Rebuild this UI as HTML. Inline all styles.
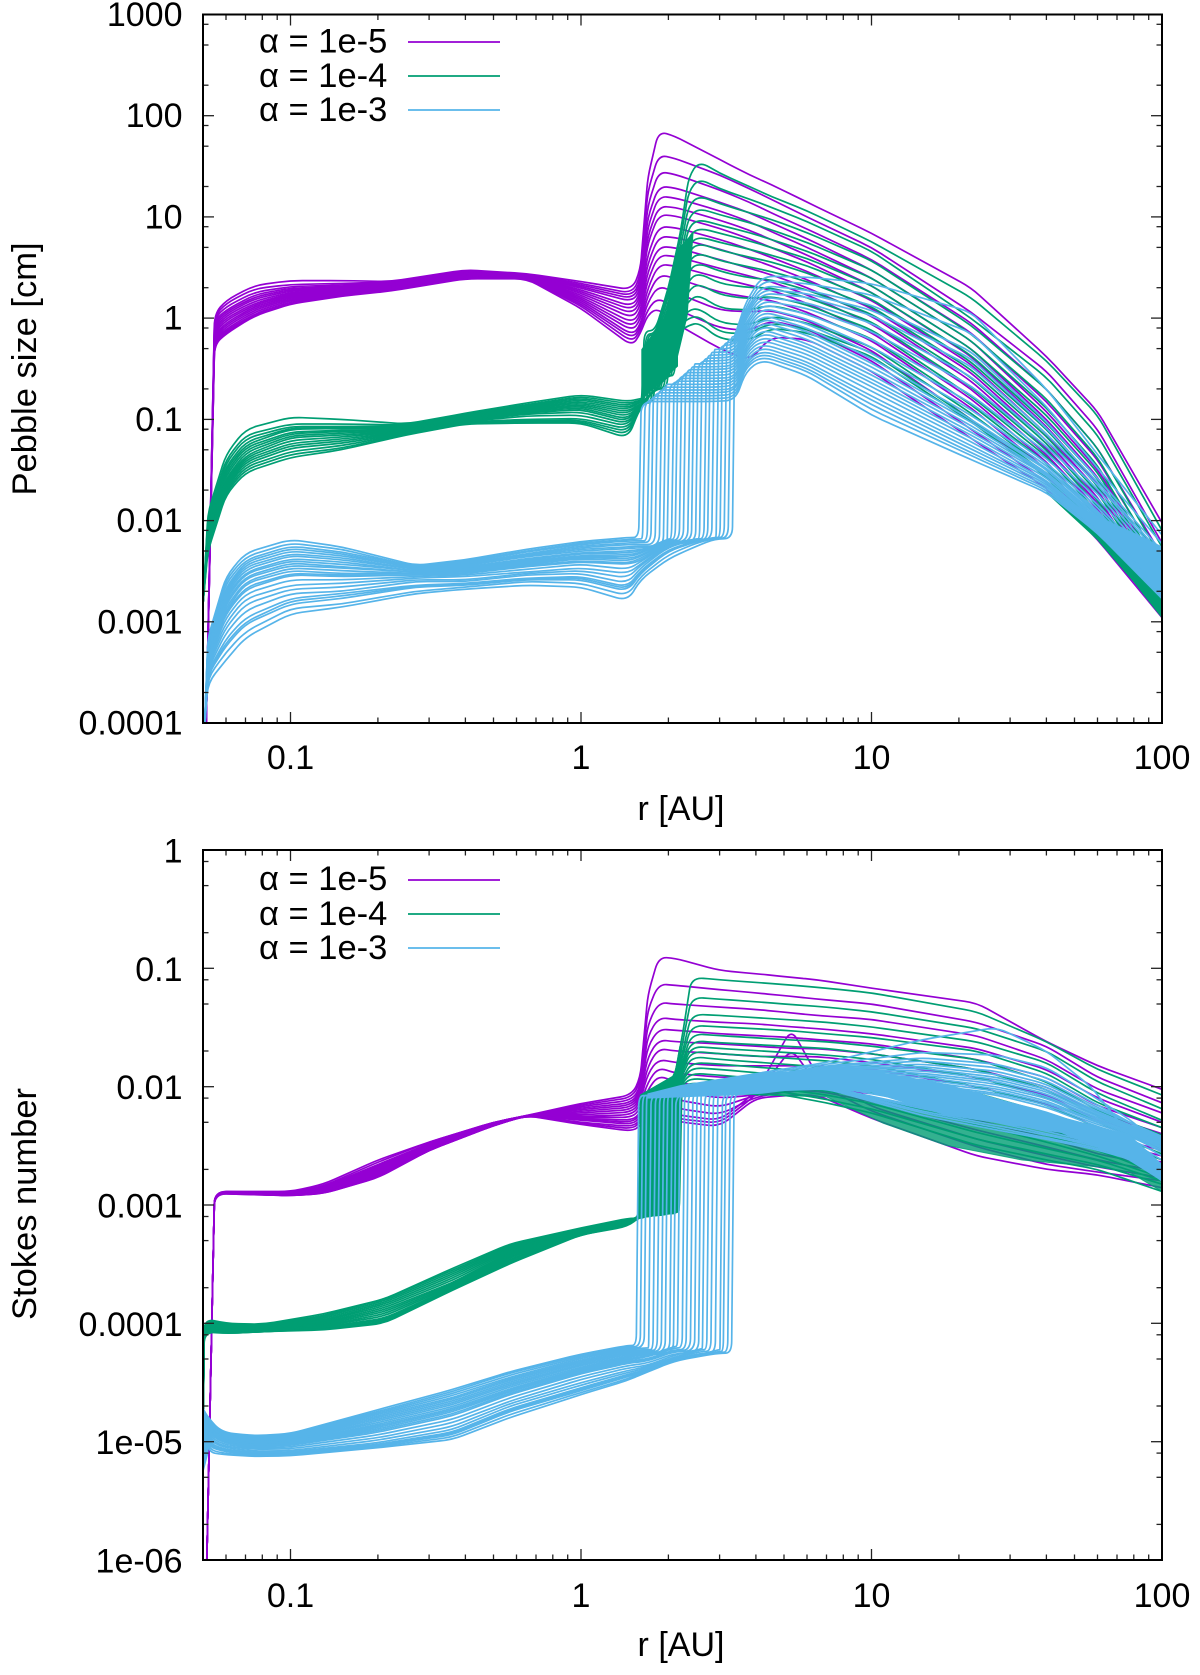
<!DOCTYPE html>
<html lang="en">
<head>
<meta charset="utf-8">
<title>Pebble size and Stokes number profiles</title>
<style>
html,body{margin:0;padding:0;background:#fff;width:1200px;height:1675px;overflow:hidden}
svg{display:block}
text{font-family:"Liberation Sans",sans-serif;fill:#000}
</style>
</head>
<body>
<svg id="figure" xmlns="http://www.w3.org/2000/svg" width="1200" height="1675" viewBox="0 0 1200 1675">
<defs>
<clipPath id="clip-top"><rect x="203" y="14.5" width="959" height="708.5"/></clipPath>
<clipPath id="clip-bottom"><rect x="203" y="850" width="959" height="710"/></clipPath>
</defs>
<g id="top-panel">
<g id="top-curves" clip-path="url(#clip-top)"></g>
<g id="top-ticks"></g>
<rect x="203" y="14.5" width="959" height="708.5" fill="none" stroke="#000" stroke-width="2"/>
<text x="36" y="369" font-size="34.5" text-anchor="middle" transform="rotate(-90 36 369)">Pebble size [cm]</text>
<text x="681" y="820" font-size="34" text-anchor="middle">r [AU]</text>
<g>
<text x="259" y="52.5" font-size="34.5">α = 1e-5</text>
<line x1="408" x2="500" y1="42" y2="42" stroke="#9400d3" stroke-width="1.8"/>
<text x="259" y="87" font-size="34.5">α = 1e-4</text>
<line x1="408" x2="500" y1="76" y2="76" stroke="#009e73" stroke-width="1.8"/>
<text x="259" y="121" font-size="34.5">α = 1e-3</text>
<line x1="408" x2="500" y1="110" y2="110" stroke="#56b4e9" stroke-width="1.8"/>
</g>
</g>
<g id="bottom-panel">
<g id="bottom-curves" clip-path="url(#clip-bottom)"></g>
<g id="bottom-ticks"></g>
<rect x="203" y="850" width="959" height="710" fill="none" stroke="#000" stroke-width="2"/>
<text x="36" y="1204" font-size="34.5" text-anchor="middle" transform="rotate(-90 36 1204)">Stokes number</text>
<text x="681" y="1656" font-size="34" text-anchor="middle">r [AU]</text>
<g>
<text x="259" y="890" font-size="34.5">α = 1e-5</text>
<line x1="408" x2="500" y1="880" y2="880" stroke="#9400d3" stroke-width="1.8"/>
<text x="259" y="925" font-size="34.5">α = 1e-4</text>
<line x1="408" x2="500" y1="914" y2="914" stroke="#009e73" stroke-width="1.8"/>
<text x="259" y="959" font-size="34.5">α = 1e-3</text>
<line x1="408" x2="500" y1="948" y2="948" stroke="#56b4e9" stroke-width="1.8"/>
</g>
</g>
</svg>
<script>
const xMajorTicks=[0.1,1,10,100];
const xMajorLabels=["0.1","1","10","100"];
const xMinorTicks=[0.06,0.07,0.08,0.09,0.2,0.3,0.4,0.5,0.6,0.7,0.8,0.9,2,3,4,5,6,7,8,9,20,30,40,50,60,70,80,90];
const sizeMajorTicks=[1000,100,10,1,0.1,0.01,0.001,0.0001];
const sizeMajorLabels=["1000","100","10","1","0.1","0.01","0.001","0.0001"];
const sizeMinorTicks=[800,500,200,80,50,20,8,5,2,0.8,0.5,0.2,0.08,0.05,0.02,0.008,0.005,0.002,0.0008,0.0005,0.0002];
const stokesMajorTicks=[1,0.1,0.01,0.001,0.0001,0.00001,0.000001];
const stokesMajorLabels=["1","0.1","0.01","0.001","0.0001","1e-05","1e-06"];
const stokesMinorTicks=[0.8,0.5,0.2,0.08,0.05,0.02,0.008,0.005,0.002,0.0008,0.0005,0.0002,0.00008,0.00005,0.00002,0.000008,0.000005,0.000002];

const purpleSizeStart=[0.0512,0.00008];
const purpleSizeRadii=[.0548,.06,.075,.1,.15,.22,.4,.65,1,1.5,1.6,1.7,1.85,2.1,3,3.8,4.5,6,10,22,40,60,100];
const purpleSizeCurves=[
[1.1,1.5,2.1,2.35,2.35,2.3,3,2.75,2.3,1.9,3,25,70,63,37,26,21,14,6.9,2,.42,.12,.0095],
[1.05,1.4,1.95,2.15,2.2,2.28,2.96,2.73,2.2,1.75,2.6,18,41,38,26,19,15,10,5,1.15,.3,.08,.006],
[1,1.3,1.8,2.05,2.12,2.25,2.93,2.71,2.12,1.65,2.3,13,28,26.5,18.5,14,11,7.6,3.8,.9,.2,.052,.0045],
[.95,1.2,1.7,1.98,2.05,2.22,2.89,2.69,2.05,1.55,2.1,10,20,19.5,14,11,8.8,6.1,3,.72,.15,.04,.0036],
[.9,1.15,1.62,1.92,2,2.19,2.85,2.67,1.98,1.45,1.9,8,16,15.5,11.5,9,7.2,5,2.5,.6,.12,.032,.003],
[.85,1.1,1.55,1.86,1.95,2.16,2.82,2.65,1.9,1.3,1.75,6.5,12.7,12.5,9.3,7.4,6,4.2,2.1,.5,.1,.027,.0026],
[.8,1.05,1.47,1.8,1.9,2.12,2.78,2.63,1.83,1.2,1.6,5.5,10.5,10.3,7.7,6.1,5,3.6,1.8,.42,.085,.023,.0023],
[.76,1,1.4,1.75,1.85,2.09,2.74,2.61,1.76,1.1,1.45,4.3,8,7.9,6,4.8,4,2.9,1.5,.35,.072,.02,.0021],
[.72,.95,1.35,1.7,1.82,2.06,2.7,2.59,1.69,1,1.3,3.5,6.4,6.3,4.8,3.9,3.3,2.4,1.25,.29,.062,.017,.0019],
[.68,.9,1.3,1.65,1.78,2.03,2.67,2.57,1.62,.9,1.15,2.9,5.1,5,3.8,3.1,2.7,2,1.05,.24,.052,.015,.0017],
[.65,.86,1.25,1.6,1.75,2,2.63,2.55,1.56,.82,1.05,2.4,4.2,4.1,3.1,2.6,2.3,1.7,.88,.2,.045,.013,.0016],
[.62,.82,1.2,1.55,1.72,1.97,2.59,2.53,1.5,.75,.95,2,3.4,3.3,2.5,2.1,1.9,1.4,.72,.16,.038,.011,.0015],
[.6,.78,1.15,1.5,1.7,1.94,2.56,2.51,1.44,.68,.85,1.7,2.7,2.5,1.8,1.6,1.5,1.15,.6,.13,.032,.0095,.0014],
[.58,.75,1.1,1.45,1.68,1.91,2.52,2.49,1.38,.63,.8,1.45,2.1,1.8,1.2,1.15,1.2,.95,.48,.1,.028,.0085,.0013],
[.56,.72,1.07,1.4,1.66,1.88,2.48,2.47,1.32,.58,.75,1.25,1.6,1.25,.8,.75,.95,.78,.38,.08,.024,.0075,.0012],
[.55,.7,1.05,1.38,1.65,1.85,2.45,2.45,1.25,.53,.7,1.1,1.25,.9,.5,.38,.65,.62,.3,.065,.021,.0065,.0011]
];

const greenSizeStart=[0.05,0.0015];
const greenSizeRadii=[.052,.06,.07,.1,.15,.25,.4,.65,1,1.45,1.6,1.8,2,2.2,2.35,2.55,3,3.8,4.5,6,10,22,40,60,100];
const greenSizeJumps=[1.62,1.64,1.66,1.69,1.72,1.75,1.78,1.81,1.84,1.87,1.9,1.94,1.98,2.02,2.06,2.1];
const greenSizeCurves=[
[.012,.045,.08,.105,.1,.09,.115,.145,.175,.15,.16,.75,2,7,25,35.8,27,20,16,11.5,5.7,1.6,.38,.11,.008],
[.011,.04,.07,.09,.09,.088,.112,.14,.168,.143,.155,.7,1.8,6,18,24,19,15,12.5,9,4.6,1,.26,.07,.0055],
[.0105,.037,.065,.085,.085,.086,.11,.137,.162,.136,.155,.68,1.6,5,13,16.2,13.5,11,9.5,7,3.7,.85,.2,.052,.0042],
[.01,.034,.06,.082,.083,.084,.108,.134,.156,.13,.15,.65,1.4,4,10,12.2,10.5,8.8,7.5,5.6,3,.7,.16,.042,.0035],
[.0095,.032,.056,.08,.081,.082,.106,.131,.15,.124,.15,.62,1.25,3.3,8,9.5,8.3,7,6,4.6,2.5,.6,.13,.035,.003],
[.009,.03,.053,.075,.078,.08,.104,.128,.145,.118,.145,.6,1.1,2.8,6.5,7.8,6.9,5.8,5,3.9,2.1,.5,.11,.03,.0027],
[.0085,.028,.05,.072,.076,.079,.102,.125,.14,.112,.145,.58,1,2.4,5.4,6.4,5.6,4.8,4.2,3.3,1.8,.43,.092,.026,.0024],
[.008,.026,.047,.069,.073,.078,.1,.122,.135,.106,.14,.2,.95,2.1,4.6,5.5,4.7,4,3.6,2.8,1.55,.37,.08,.022,.0022],
[.0075,.025,.044,.066,.07,.077,.099,.119,.13,.1,.14,.2,.9,1.8,3.7,4.4,3.7,3.2,2.9,2.3,1.3,.31,.068,.019,.002],
[.007,.024,.042,.062,.067,.076,.097,.116,.125,.095,.14,.2,.85,1.55,3,3.5,2.9,2.5,2.4,1.9,1.1,.26,.058,.016,.0018],
[.0067,.023,.04,.058,.064,.075,.096,.113,.118,.09,.135,.2,.8,1.35,2.4,2.8,2.2,2,2,1.6,.92,.21,.05,.014,.0017],
[.0064,.022,.038,.055,.061,.074,.095,.108,.11,.085,.135,.2,.75,1.2,1.9,2.2,1.7,1.55,1.65,1.35,.77,.17,.043,.012,.0016],
[.0061,.021,.036,.052,.058,.073,.094,.1,.102,.08,.13,.2,.7,1.05,1.5,1.7,1.25,1.2,1.35,1.1,.63,.14,.037,.011,.0015],
[.0058,.02,.034,.048,.055,.072,.093,.097,.098,.075,.13,.2,.27,.95,1.2,1.25,.9,.85,1.05,.9,.52,.115,.032,.0095,.0014],
[.0055,.019,.032,.045,.052,.071,.092,.095,.095,.07,.13,.2,.27,.85,1,1.05,.72,.7,.9,.78,.46,.1,.029,.0085,.0013],
[.005,.018,.03,.042,.05,.07,.09,.092,.092,.065,.13,.2,.27,.75,.85,.9,.62,.6,.8,.72,.42,.095,.027,.0078,.0012]
];
const greenSizeBlockRadii=[1.62,1.96,2.15,2.43,2.32,2.15,2.15,1.62];
const greenSizeBlockValues=[.49,1.05,4.7,6.9,1.05,.42,.336,.158];
const greenSizeWedgeRadii=[40,60,80,100,100,80,60];
const greenSizeWedgeValues=[.019,.0065,.0025,.0011,.0017,.0043,.0085];

const blueSizeStart=[0.0505,0.00008];
const blueSizeRadii=[.052,.06,.07,.1,.15,.27,.4,.65,1,1.45,1.6,2,2.5,2.9,3.4,3.7,4.2,6,10,22,40,60,100];
const blueSizeJumps=[1.58,1.63,1.69,1.74,1.8,1.86,1.92,1.98,2.05,2.11,2.18,2.25,2.33,2.4,2.48,2.56,2.65,2.73,2.82,2.92,3.01,3.11,3.21,3.32];
const blueSizeCurves=[
[.0007,.0028,.0048,.0065,.0055,.0036,.0041,.0052,.0062,.0068,.15,.15,.15,.15,.155,.3,.39,.27,.11,.04,.019,.0075,.0017],
[.00068,.0026,.0044,.006,.0052,.0035,.004,.005,.006,.0065,.0066,.16,.16,.16,.165,.33,.42,.3,.125,.044,.02,.0078,.00175],
[.00065,.0024,.0041,.0056,.0049,.0035,.0039,.0049,.0058,.0063,.0063,.171,.171,.171,.177,.35,.45,.32,.14,.047,.021,.0081,.0018],
[.00062,.0022,.0039,.0053,.0047,.0034,.0038,.0047,.0056,.006,.0061,.183,.183,.183,.19,.37,.48,.345,.155,.051,.022,.0084,.00185],
[.0006,.0021,.0037,.005,.0045,.0034,.0037,.0046,.0054,.0058,.0058,.195,.195,.195,.2,.39,.52,.37,.17,.055,.023,.0087,.0019],
[.00058,.002,.0035,.0047,.0043,.0033,.0036,.0045,.0052,.0055,.0056,.208,.208,.208,.215,.42,.56,.405,.19,.06,.024,.009,.00195],
[.00056,.0019,.0033,.0045,.0041,.0033,.0036,.0044,.005,.0053,.0054,.222,.222,.222,.23,.45,.61,.44,.21,.065,.025,.0093,.002],
[.00054,.0018,.0031,.0042,.0039,.0032,.0035,.0042,.0048,.005,.0052,.238,.238,.238,.245,.48,.66,.48,.23,.07,.0265,.0097,.00205],
[.00052,.0017,.003,.004,.0037,.0032,.0034,.0041,.0047,.0048,.005,.0066,.254,.254,.26,.51,.72,.52,.25,.075,.028,.01,.0021],
[.0005,.0016,.0028,.0038,.0035,.0031,.0033,.004,.0045,.0046,.0048,.0065,.271,.271,.28,.54,.78,.56,.275,.081,.029,.0105,.0022],
[.00048,.0015,.0027,.0036,.0034,.0031,.0033,.0039,.0044,.0044,.0047,.0064,.29,.29,.3,.58,.85,.62,.3,.087,.03,.011,.0023],
[.00046,.0014,.0025,.0034,.0032,.003,.0032,.0038,.0043,.0042,.0045,.0063,.31,.31,.32,.62,.92,.68,.33,.094,.032,.0115,.0024],
[.00045,.0013,.0024,.0032,.003,.003,.0031,.0037,.0042,.004,.0044,.0062,.33,.33,.34,.66,1,.74,.36,.1,.033,.012,.0025],
[.00043,.00125,.0022,.003,.0029,.0029,.003,.0036,.004,.0038,.0042,.0061,.353,.353,.365,.7,1.08,.8,.4,.11,.035,.0125,.0026],
[.00042,.0012,.0021,.0029,.0028,.0029,.003,.0035,.0039,.0037,.004,.006,.377,.377,.39,.75,1.17,.88,.45,.125,.037,.0135,.0028],
[.0004,.0011,.0019,.0026,.0026,.0028,.0029,.0033,.0037,.0033,.0039,.0059,.0066,.402,.415,.8,1.27,.98,.52,.145,.041,.0145,.003],
[.00038,.00098,.0017,.0023,.0024,.0027,.0028,.0031,.0034,.003,.0037,.0058,.0066,.43,.44,.86,1.38,1.1,.62,.175,.047,.0165,.0033],
[.00036,.00088,.0015,.0021,.0022,.0026,.0026,.003,.0032,.0027,.0036,.0056,.0065,.459,.47,.92,1.5,1.25,.74,.215,.054,.0185,.0036],
[.00034,.00078,.0013,.0019,.002,.0025,.0025,.0029,.003,.0024,.0034,.0055,.0065,.49,.505,1,1.63,1.42,.89,.265,.062,.0205,.0039],
[.00032,.00068,.0011,.0017,.0019,.0023,.0024,.0027,.0028,.0022,.0032,.0052,.0063,.0068,.54,1.07,1.77,1.62,1.07,.335,.072,.0225,.0043],
[.00031,.00062,.001,.0016,.0018,.00225,.00235,.00265,.0027,.0021,.0031,.0051,.0063,.0068,.575,1.13,1.93,1.75,1.2,.4,.082,.024,.0046],
[.0003,.00058,.00095,.0015,.0017,.0022,.0023,.0026,.0026,.002,.003,.005,.0062,.0068,.615,1.2,2.1,1.9,1.35,.47,.095,.026,.005],
[.00028,.0005,.0008,.00135,.0015,.002,.0022,.0025,.0024,.0018,.0028,.0046,.006,.0067,.655,1.3,2.35,2.2,1.7,.72,.135,.033,.0059],
[.00025,.00042,.0007,.0012,.0014,.0019,.0021,.0023,.0022,.0016,.0026,.0042,.0056,.0066,.7,1.45,2.6,2.55,2.2,1.15,.2,.045,.0072]
];
const blueSizeWedgeRadii=[42,60,80,100,100,80,60];
const blueSizeWedgeValues=[.018,.0085,.0043,.0017,.0055,.0075,.011];

const purpleStokesStart=[0.0515,9e-7];
const purpleStokesRadii=[.0548,.1,.13,.2,.3,.5,.65,1,1.5,1.6,1.7,1.85,2.1,3,4,5.3,6.5,10,23,40,60,100];
const purpleStokesCurves=[
[.0013,.0013,.0015,.0024,.0034,.005,.0057,.0072,.0085,.012,.06,.124,.122,.096,.09,.084,.08,.068,.051,.024,.015,.0095],
[.0013,.00128,.00145,.0023,.0034,.005,.0057,.007,.0081,.011,.045,.0737,.072,.066,.062,.058,.055,.05,.035,.022,.012,.0073],
[.0013,.00127,.00142,.0022,.0033,.005,.0057,.0068,.0077,.01,.034,.0516,.05,.047,.045,.042,.04,.037,.027,.017,.0095,.006],
[.0013,.00126,.00139,.00215,.0033,.005,.0057,.0066,.0073,.0095,.027,.0385,.037,.035,.034,.032,.031,.028,.021,.014,.008,.005],
[.00129,.00125,.00136,.0021,.0032,.0049,.0057,.0064,.007,.009,.022,.0307,.03,.028,.027,.026,.025,.023,.017,.012,.0069,.0045],
[.00129,.00124,.00134,.00205,.0032,.0049,.0057,.0062,.0067,.0085,.018,.0249,.024,.023,.022,.021,.021,.019,.014,.01,.006,.004],
[.00128,.00123,.00132,.002,.0031,.0049,.0057,.006,.0064,.008,.015,.0211,.02,.019,.018,.018,.018,.016,.012,.0085,.0052,.0036],
[.00128,.00122,.0013,.00195,.0031,.0049,.0057,.0058,.0061,.0075,.013,.0171,.016,.015,.015,.015,.015,.014,.01,.0072,.0045,.0032],
[.00127,.00122,.0013,.0019,.00305,.0048,.0057,.0056,.0058,.007,.011,.0146,.013,.012,.012,.012,.012,.012,.0085,.006,.004,.0029],
[.00127,.00121,.00129,.00185,.003,.0048,.0057,.0055,.0055,.0065,.0095,.0125,.011,.0095,.0097,.0105,.0105,.0098,.0072,.0051,.0035,.0026],
[.00127,.00121,.00128,.0018,.003,.0048,.0057,.0054,.0052,.006,.0085,.0108,.0092,.008,.0085,.0095,.0095,.0088,.0062,.0044,.0031,.0023],
[.00126,.0012,.00127,.00178,.00295,.0048,.0057,.0053,.005,.0058,.0075,.0095,.0078,.0067,.0085,.0095,.0095,.0082,.0052,.0037,.0027,.0021],
[.00126,.0012,.00126,.00175,.00295,.0047,.0057,.0052,.0048,.0055,.007,.0083,.0066,.0058,.0082,.0092,.0092,.0075,.0043,.0031,.0024,.0019],
[.00126,.0012,.00126,.00173,.0029,.0047,.0057,.005,.0046,.0052,.0065,.0075,.0058,.0052,.009,.0307,.0125,.0068,.0036,.0026,.0021,.0017],
[.00125,.0012,.00125,.00171,.0029,.0047,.0057,.0049,.0044,.005,.006,.007,.0054,.0049,.0085,.021,.0105,.0062,.0031,.0022,.0019,.0016],
[.00125,.0012,.00125,.0017,.0029,.0047,.0057,.0048,.0042,.0047,.0056,.0066,.0051,.0046,.008,.0085,.0085,.0054,.0026,.002,.0018,.0014]
];

const greenStokesStart=[0.05,9e-6];
const greenStokesRadii=[.0505,.06,.08,.13,.21,.36,.57,1,1.45,1.6,1.85,2.1,2.25,2.4,3,5,7,10,23,40,60,100];
const greenStokesJumps=[1.58,1.62,1.66,1.7,1.74,1.78,1.82,1.86,1.9,1.94,1.98,2.02,2.06,2.11,2.14,2.18];
const greenStokesCurves=[
[1.1e-4,1e-4,9.8e-5,1.2e-4,1.6e-4,2.9e-4,4.7e-4,6.4e-4,7.7e-4,.0085,.009,.012,.03,.084,.08,.073,.068,.062,.043,.024,.014,.0085],
[1.08e-4,9.8e-5,9.6e-5,1.16e-4,1.6e-4,2.8e-4,4.6e-4,6.3e-4,7.6e-4,7.8e-4,.0085,.011,.025,.057,.055,.05,.047,.043,.031,.02,.011,.0065],
[1.06e-4,9.6e-5,9.4e-5,1.13e-4,1.55e-4,2.7e-4,4.5e-4,6.3e-4,7.6e-4,7.8e-4,.0085,.01,.021,.041,.04,.037,.035,.032,.024,.016,.0088,.0052],
[1.04e-4,9.4e-5,9.3e-5,1.1e-4,1.5e-4,2.6e-4,4.4e-4,6.2e-4,7.5e-4,7.9e-4,.0085,.01,.019,.033,.032,.03,.028,.026,.02,.013,.0073,.0045],
[1.02e-4,9.2e-5,9.2e-5,1.07e-4,1.45e-4,2.5e-4,4.3e-4,6.1e-4,7.4e-4,8e-4,.0084,.0095,.017,.028,.027,.025,.024,.022,.017,.011,.0063,.0039],
[1e-4,9e-5,9.1e-5,1.05e-4,1.4e-4,2.4e-4,4.2e-4,6.1e-4,7.4e-4,8e-4,.0084,.0095,.016,.0245,.0235,.022,.021,.019,.014,.0095,.0056,.0034],
[9.8e-5,8.9e-5,9e-5,1.02e-4,1.35e-4,2.3e-4,4.1e-4,6e-4,7.3e-4,8e-4,.0083,.009,.015,.022,.021,.0195,.0185,.017,.012,.0082,.005,.003],
[9.6e-5,8.8e-5,8.9e-5,1e-4,1.3e-4,2.2e-4,4e-4,6e-4,7.2e-4,8e-4,8.2e-4,.0088,.014,.02,.019,.0175,.0165,.015,.01,.007,.0045,.0027],
[9.5e-5,8.7e-5,8.8e-5,9.8e-5,1.25e-4,2.15e-4,3.9e-4,5.9e-4,7.1e-4,8e-4,8.2e-4,.0088,.013,.018,.017,.0155,.0145,.013,.0088,.006,.004,.0024],
[9.4e-5,8.6e-5,8.7e-5,9.6e-5,1.2e-4,2.1e-4,3.8e-4,5.9e-4,7e-4,8e-4,8.2e-4,.0086,.012,.016,.0155,.014,.013,.0115,.0075,.0052,.0036,.0022],
[9.2e-5,8.5e-5,8.7e-5,9.5e-5,1.15e-4,2.05e-4,3.7e-4,5.8e-4,7e-4,8e-4,8.3e-4,.0086,.0115,.0145,.014,.0125,.0115,.01,.0065,.0045,.0032,.002],
[9.1e-5,8.4e-5,8.6e-5,9.3e-5,1.1e-4,2e-4,3.6e-4,5.8e-4,6.9e-4,8e-4,8.3e-4,.0085,.011,.013,.0125,.0112,.0102,.009,.0056,.0039,.0029,.0018],
[9e-5,8.3e-5,8.6e-5,9.2e-5,1.07e-4,1.97e-4,3.5e-4,5.7e-4,6.8e-4,8e-4,8.4e-4,.0085,.0105,.0118,.0112,.0102,.0092,.008,.0048,.0034,.0026,.0017],
[8.8e-5,8.3e-5,8.5e-5,9e-5,1.04e-4,1.95e-4,3.4e-4,5.7e-4,6.7e-4,8e-4,8.4e-4,8.5e-4,.01,.0108,.0102,.0095,.0085,.0072,.0041,.003,.0024,.0016],
[8.7e-5,8.2e-5,8.5e-5,8.9e-5,1.02e-4,1.92e-4,3.3e-4,5.6e-4,6.7e-4,8e-4,8.5e-4,8.6e-4,.0095,.0098,.0094,.009,.0078,.0065,.0036,.0027,.0022,.0015],
[8.5e-5,8.2e-5,8.5e-5,8.8e-5,1e-4,1.9e-4,3.2e-4,5.6e-4,6.6e-4,8e-4,8.5e-4,8.7e-4,.009,.0092,.0088,.0085,.0073,.006,.0032,.0024,.002,.0013]
];
const greenStokesBlockRadii=[1.58,1.6,2.1,2.19,2.25,2.18,2.18,2.1,1.58];
const greenStokesBlockValues=[.00078,.0085,.0125,.022,.012,.0085,.0009,.00085,.00078];
const greenStokesLowerRadii=[4,7.2,18,45,77,100,100,77,60,33,18,11,7,4];
const greenStokesLowerValues=[.0088,.0098,.0058,.0041,.0024,.0016,.0013,.0019,.0021,.0024,.0032,.0049,.0082,.0085];

const blueStokesStart=[0.05,1.9e-5];
const blueStokesRadii=[.052,.058,.075,.1,.2,.36,.57,1,1.45,1.7,2.1,2.6,3,3.6,4.2,7,15,27,40,57,80,100];
const blueStokesJumps=[1.55,1.6,1.65,1.71,1.77,1.83,1.89,1.95,2.02,2.08,2.15,2.23,2.3,2.38,2.46,2.54,2.62,2.71,2.8,2.9,3.01,3.09,3.2,3.3];
const blueStokesCurves=[
[1.6e-5,1.2e-5,1.12e-5,1.17e-5,1.86e-5,2.75e-5,3.9e-5,5.5e-5,6.5e-5,.0084,.0092,.0103,.011,.012,.0132,.016,.025,.0317,.02,.01,.0035,.0016],
[1.55e-5,1.18e-5,1.1e-5,1.15e-5,1.8e-5,2.65e-5,3.8e-5,5.35e-5,6.35e-5,.0084,.0091,.01,.0107,.0115,.0127,.0155,.0195,.0185,.0146,.0085,.005,.003],
[1.5e-5,1.17e-5,1.08e-5,1.13e-5,1.75e-5,2.55e-5,3.65e-5,5.2e-5,6.2e-5,.0083,.009,.0098,.0104,.0112,.0122,.015,.0175,.0155,.012,.0075,.0048,.0035],
[1.47e-5,1.15e-5,1.06e-5,1.11e-5,1.7e-5,2.45e-5,3.5e-5,5.05e-5,6.05e-5,6.2e-5,.0089,.0097,.0103,.011,.012,.0148,.0165,.0145,.0112,.0071,.0048,.0037],
[1.45e-5,1.14e-5,1.05e-5,1.09e-5,1.65e-5,2.35e-5,3.4e-5,4.9e-5,5.9e-5,6e-5,.0089,.0096,.0102,.0109,.0118,.0145,.0155,.0135,.0105,.0068,.0048,.0038],
[1.42e-5,1.12e-5,1.03e-5,1.07e-5,1.6e-5,2.28e-5,3.3e-5,4.78e-5,5.75e-5,5.9e-5,.0089,.0095,.0101,.0107,.0115,.0142,.0148,.0127,.01,.0065,.0046,.0037],
[1.4e-5,1.1e-5,1.02e-5,1.05e-5,1.55e-5,2.2e-5,3.2e-5,4.65e-5,5.6e-5,5.8e-5,.0088,.0095,.01,.0106,.0113,.014,.0142,.012,.0095,.0063,.0045,.0036],
[1.37e-5,1.08e-5,1e-5,1.03e-5,1.5e-5,2.12e-5,3.1e-5,4.52e-5,5.45e-5,5.7e-5,.0088,.0094,.0099,.0105,.0111,.0137,.0136,.0115,.0091,.0061,.0044,.0035],
[1.35e-5,1.07e-5,9.9e-6,1.02e-5,1.45e-5,2.05e-5,3e-5,4.4e-5,5.3e-5,5.6e-5,.0088,.0094,.0098,.0104,.011,.0135,.013,.011,.0087,.0059,.0043,.0034],
[1.32e-5,1.05e-5,9.7e-6,1e-5,1.4e-5,1.97e-5,2.9e-5,4.27e-5,5.17e-5,5.5e-5,.0087,.0093,.0097,.0103,.0108,.0132,.0125,.0105,.0083,.0057,.0042,.0033],
[1.3e-5,1.04e-5,9.6e-6,9.9e-6,1.36e-5,1.9e-5,2.8e-5,4.15e-5,5.05e-5,5.3e-5,6.4e-5,.0092,.0096,.0102,.0107,.013,.012,.01,.008,.0055,.0041,.0032],
[1.27e-5,1.02e-5,9.4e-6,9.7e-6,1.32e-5,1.84e-5,2.72e-5,4.05e-5,4.92e-5,5.2e-5,6.2e-5,.0092,.0095,.0101,.0106,.0127,.0115,.0096,.0076,.0053,.004,.0031],
[1.25e-5,1.01e-5,9.3e-6,9.6e-6,1.28e-5,1.78e-5,2.65e-5,3.95e-5,4.8e-5,5e-5,6e-5,.0091,.0095,.01,.0105,.0125,.011,.0092,.0073,.0052,.0039,.003],
[1.22e-5,9.9e-6,9.1e-6,9.4e-6,1.24e-5,1.71e-5,2.57e-5,3.85e-5,4.7e-5,4.9e-5,5.9e-5,.009,.0094,.0099,.0104,.0122,.0105,.0088,.007,.005,.0038,.0029],
[1.2e-5,9.8e-6,9e-6,9.3e-6,1.2e-5,1.65e-5,2.5e-5,3.75e-5,4.6e-5,4.8e-5,5.8e-5,.009,.0094,.0098,.0103,.012,.0102,.0085,.0067,.0048,.0037,.0028],
[1.15e-5,9.5e-6,8.8e-6,9e-6,1.14e-5,1.54e-5,2.35e-5,3.55e-5,4.4e-5,4.6e-5,5.6e-5,.0088,.0092,.0096,.0101,.0115,.0095,.0078,.0061,.0045,.0035,.0026],
[1.1e-5,9.2e-6,8.6e-6,8.7e-6,1.08e-5,1.44e-5,2.2e-5,3.35e-5,4.2e-5,4.4e-5,5.4e-5,6.1e-5,.0091,.0095,.01,.011,.0088,.0072,.0056,.0042,.0033,.0024],
[1.05e-5,9e-6,8.3e-6,8.4e-6,1.03e-5,1.34e-5,2.1e-5,3.15e-5,4e-5,4.3e-5,5.2e-5,6e-5,.009,.0093,.0098,.0105,.008,.0065,.0051,.0039,.0031,.0022],
[1e-5,8.7e-6,8.1e-6,8.2e-6,9.8e-6,1.26e-5,2e-5,3e-5,3.85e-5,4.2e-5,5.1e-5,5.8e-5,.0088,.0091,.0096,.0102,.0073,.0058,.0046,.0036,.0029,.002],
[9.6e-6,8.5e-6,7.9e-6,8e-6,9.5e-6,1.2e-5,1.9e-5,2.85e-5,3.7e-5,4.1e-5,5e-5,5.6e-5,.0086,.009,.0095,.01,.0067,.0052,.0042,.0034,.0028,.0019],
[9.4e-6,8.4e-6,7.8e-6,7.9e-6,9.4e-6,1.17e-5,1.85e-5,2.78e-5,3.62e-5,4.05e-5,4.95e-5,5.5e-5,6e-5,.0089,.0095,.0099,.0065,.005,.004,.0033,.0027,.00185],
[9.2e-6,8.3e-6,7.7e-6,7.8e-6,9.3e-6,1.14e-5,1.8e-5,2.7e-5,3.55e-5,4e-5,4.9e-5,5.4e-5,5.8e-5,.0088,.0094,.0098,.0062,.0047,.0039,.0032,.0026,.0018],
[8.7e-6,8e-6,7.6e-6,7.7e-6,9.1e-6,1.09e-5,1.7e-5,2.6e-5,3.4e-5,4e-5,4.85e-5,5.35e-5,5.7e-5,.0087,.0093,.0097,.006,.0045,.0037,.0031,.0025,.0017],
[8.2e-6,7.8e-6,7.5e-6,7.6e-6,8.9e-6,1.04e-5,1.6e-5,2.5e-5,3.3e-5,3.9e-5,4.8e-5,5.3e-5,5.6e-5,.0086,.0092,.0096,.0057,.0043,.0036,.003,.0024,.0016]
];
const blueStokesThickRadii=[1.7,2.2,4.2,10,18,45,77,100,100,77,45,18,10,6,4.2,3.3,2.2,1.7];
const blueStokesThickValues=[.0087,.0102,.0132,.0135,.0105,.0055,.0039,.0022,.0016,.0024,.0041,.0058,.009,.0098,.0088,.0085,.0082,.008];
const blueStokesSpikeRadii=[.05,.05,.052,.052];
const blueStokesSpikeValues=[5.5e-6,1.9e-5,1.6e-5,8e-6];

const SVG_NS="http://www.w3.org/2000/svg";
const PLOT_LEFT=203,PLOT_RIGHT=1162;
const LOG_X_MIN=Math.log10(0.05),LOG_X_MAX=2;
function xAxis(r){
  return PLOT_LEFT+(Math.log10(r)-LOG_X_MIN)/(LOG_X_MAX-LOG_X_MIN)*(PLOT_RIGHT-PLOT_LEFT);
}
function yAxisFor(top,bottom,maxValue,minValue){
  const hi=Math.log10(maxValue),lo=Math.log10(minValue);
  return function(v){return top+(hi-Math.log10(v))/(hi-lo)*(bottom-top);};
}
const sizeY=yAxisFor(14.5,723,1000,0.0001);
const stokesY=yAxisFor(850,1560,1,0.000001);

function curvePoints(radii,values,jump,start){
  const pts=[start];
  let jumped=false;
  for(let i=0;i<radii.length;i++){
    if(jump&&!jumped&&radii[i]>=jump){
      jumped=true;
      const after=jump*1.02;
      pts.push([jump,values[i-1]]);
      pts.push([after,values[i]]);
      if(radii[i]<=after)continue;
    }
    pts.push([radii[i],values[i]]);
  }
  return pts;
}
function roundedPath(pixels,radius){
  let d="M"+pixels[0][0].toFixed(1)+" "+pixels[0][1].toFixed(1);
  for(let i=1;i<pixels.length-1;i++){
    const p=pixels[i],a=pixels[i-1],b=pixels[i+1];
    const la=Math.hypot(p[0]-a[0],p[1]-a[1])||1,lb=Math.hypot(b[0]-p[0],b[1]-p[1])||1;
    const da=Math.min(radius,la/2),db=Math.min(radius,lb/2);
    const x1=p[0]+(a[0]-p[0])*da/la,y1=p[1]+(a[1]-p[1])*da/la;
    const x2=p[0]+(b[0]-p[0])*db/lb,y2=p[1]+(b[1]-p[1])*db/lb;
    d+="L"+x1.toFixed(1)+" "+y1.toFixed(1)+"Q"+p[0].toFixed(1)+" "+p[1].toFixed(1)+" "+x2.toFixed(1)+" "+y2.toFixed(1);
  }
  const last=pixels[pixels.length-1];
  return d+"L"+last[0].toFixed(1)+" "+last[1].toFixed(1);
}
function drawFamily(parent,yAxis,radii,curves,jumps,start,color,seriesName){
  const group=document.createElementNS(SVG_NS,"g");
  
  
  parent.appendChild(group);
  curves.forEach(function(values,i){
    const pts=curvePoints(radii,values,jumps?jumps[i]:null,start);
    const pixels=pts.map(function(p){return [xAxis(p[0]),yAxis(p[1])];});
    const path=document.createElementNS(SVG_NS,"path");
    path.setAttribute("d",roundedPath(pixels,12));
    path.setAttribute("fill","none");
    path.setAttribute("stroke",color);
    path.setAttribute("stroke-width","1.7");
    
    
    group.appendChild(path);
  });
}
function drawBand(parent,yAxis,radii,values,color,opacity,bandName){
  const poly=document.createElementNS(SVG_NS,"polygon");
  const coords=radii.map(function(r,i){return xAxis(r).toFixed(1)+","+yAxis(values[i]).toFixed(1);});
  poly.setAttribute("points",coords.join(" "));
  poly.setAttribute("fill",color);
  poly.setAttribute("fill-opacity",opacity);
  poly.setAttribute("stroke",color);
  poly.setAttribute("stroke-opacity",opacity);
  
  
  parent.appendChild(poly);
}
function tickLine(parent,x1,y1,x2,y2,name){
  const line=document.createElementNS(SVG_NS,"line");
  line.setAttribute("x1",x1.toFixed(1));
  line.setAttribute("y1",y1.toFixed(1));
  line.setAttribute("x2",x2.toFixed(1));
  line.setAttribute("y2",y2.toFixed(1));
  line.setAttribute("stroke","#222");
  line.setAttribute("stroke-width","1.3");
  
  
  parent.appendChild(line);
}
function tickLabel(parent,x,y,anchor,content,name){
  const t=document.createElementNS(SVG_NS,"text");
  t.setAttribute("x",x.toFixed(1));
  t.setAttribute("y",y.toFixed(1));
  t.setAttribute("font-size","34");
  t.setAttribute("text-anchor",anchor);
  t.textContent=content;
  
  
  parent.appendChild(t);
}
function drawAxes(parent,top,bottom,yAxis,yMajor,yLabels,yMinor,xLabelGap,yLabelGap){
  const MAJOR=11,MINOR=5.5;
  xMajorTicks.forEach(function(v,i){
    const x=xAxis(v);
    tickLine(parent,x,bottom,x,bottom-MAJOR,'x-major-tick');
    tickLine(parent,x,top,x,top+MAJOR,'x-major-tick-top');
    tickLabel(parent,x,bottom+xLabelGap,"middle",xMajorLabels[i],'x-tick-label');
  });
  xMinorTicks.forEach(function(v){
    const x=xAxis(v);
    tickLine(parent,x,bottom,x,bottom-MINOR,'x-minor-tick');
    tickLine(parent,x,top,x,top+MINOR,'x-minor-tick-top');
  });
  yMajor.forEach(function(v,i){
    const y=yAxis(v);
    tickLine(parent,PLOT_LEFT,y,PLOT_LEFT+MAJOR,y,'y-major-tick');
    tickLine(parent,PLOT_RIGHT,y,PLOT_RIGHT-MAJOR,y,'y-major-tick-right');
    tickLabel(parent,182.5,y+yLabelGap,"end",yLabels[i],'y-tick-label');
  });
  yMinor.forEach(function(v){
    const y=yAxis(v);
    tickLine(parent,PLOT_LEFT,y,PLOT_LEFT+MINOR,y,'y-minor-tick');
    tickLine(parent,PLOT_RIGHT,y,PLOT_RIGHT-MINOR,y,'y-minor-tick-right');
  });
}
const topCurves=document.getElementById("top-curves");
const bottomCurves=document.getElementById("bottom-curves");
drawFamily(topCurves,sizeY,purpleSizeRadii,purpleSizeCurves,null,purpleSizeStart,"#9400d3","size-alpha-1e-5");
drawFamily(topCurves,sizeY,greenSizeRadii,greenSizeCurves,greenSizeJumps,greenSizeStart,"#009e73","size-alpha-1e-4");
drawBand(topCurves,sizeY,greenSizeBlockRadii,greenSizeBlockValues,"#009e73",1,"size-alpha-1e-4-jump-block");
drawBand(topCurves,sizeY,greenSizeWedgeRadii,greenSizeWedgeValues,"#009e73",1,"size-alpha-1e-4-outer-wedge");
drawFamily(topCurves,sizeY,blueSizeRadii,blueSizeCurves,blueSizeJumps,blueSizeStart,"#56b4e9","size-alpha-1e-3");
drawBand(topCurves,sizeY,blueSizeWedgeRadii,blueSizeWedgeValues,"#56b4e9",1,"size-alpha-1e-3-outer-wedge");
drawFamily(bottomCurves,stokesY,purpleStokesRadii,purpleStokesCurves,null,purpleStokesStart,"#9400d3","stokes-alpha-1e-5");
drawFamily(bottomCurves,stokesY,greenStokesRadii,greenStokesCurves,greenStokesJumps,greenStokesStart,"#009e73","stokes-alpha-1e-4");
drawBand(bottomCurves,stokesY,greenStokesBlockRadii,greenStokesBlockValues,"#009e73",1,"stokes-alpha-1e-4-jump-block");
drawBand(bottomCurves,stokesY,greenStokesLowerRadii,greenStokesLowerValues,"#009e73",0.8,"stokes-alpha-1e-4-lower-band");
drawFamily(bottomCurves,stokesY,blueStokesRadii,blueStokesCurves,blueStokesJumps,blueStokesStart,"#56b4e9","stokes-alpha-1e-3");
drawBand(bottomCurves,stokesY,blueStokesThickRadii,blueStokesThickValues,"#56b4e9",1,"stokes-alpha-1e-3-thick-band");
drawBand(bottomCurves,stokesY,blueStokesSpikeRadii,blueStokesSpikeValues,"#56b4e9",1,"stokes-alpha-1e-3-inner-spike");
drawAxes(document.getElementById("top-ticks"),14.5,723,sizeY,sizeMajorTicks,sizeMajorLabels,sizeMinorTicks,46,11.5);
drawAxes(document.getElementById("bottom-ticks"),850,1560,stokesY,stokesMajorTicks,stokesMajorLabels,stokesMinorTicks,47,12.5);
</script>
</body>
</html>
